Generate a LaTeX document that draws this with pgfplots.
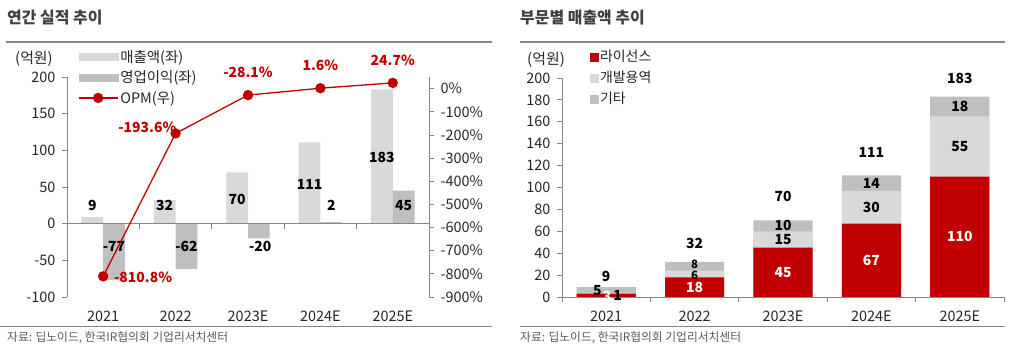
\documentclass[border=0pt]{standalone}
\usepackage{fontspec}
\setmainfont{Noto Sans CJK KR}
\usepackage{pgfplots}
\pgfplotsset{compat=1.18}
\definecolor{lbar}{HTML}{D9D9D9}
\definecolor{dbar}{HTML}{BFBFBF}
\definecolor{ored}{HTML}{C00000}
\definecolor{titlec}{HTML}{404040}
\definecolor{axc}{HTML}{868686}
\definecolor{txtc}{HTML}{262626}
\definecolor{srcc}{HTML}{595959}
\begin{document}
\begin{tikzpicture}[x=1bp,y=1bp]
\useasboundingbox (0,0) rectangle (1018,353);
% titles and rules
\node[anchor=west, font=\fontsize{16}{19}\selectfont\bfseries, text=titlec, inner sep=0] at (7,335) {연간 실적 추이};
\node[anchor=west, font=\fontsize{16}{19}\selectfont\bfseries, text=titlec, inner sep=0] at (520,335) {부문별 매출액 추이};
\draw[axc, line width=1.2bp] (6,311) -- (492,311);
\draw[axc, line width=1.2bp] (520,311) -- (1005,311);
\draw[axc, line width=1bp] (0,27) -- (492,27);
\draw[axc, line width=1bp] (520,27) -- (1005,27);
\node[anchor=west, font=\fontsize{11.8}{14}\selectfont, text=srcc, inner sep=0] at (7,15) {자료: 딥노이드, 한국IR협의회 기업리서치센터};
\node[anchor=west, font=\fontsize{11.8}{14}\selectfont, text=srcc, inner sep=0] at (520,15) {자료: 딥노이드, 한국IR협의회 기업리서치센터};
\node[font=\fontsize{15}{17}\selectfont, text=txtc] at (34,294) {(억원)};
\node[font=\fontsize{15}{17}\selectfont, text=txtc] at (546,293) {(억원)};

\pgfplotsset{
  every axis/.append style={
    scale only axis, anchor=south west, clip=false,
    tick label style={font=\fontsize{14.5}{17}\selectfont, text=txtc},
    /pgf/number format/assume math mode=true,
    axis line style={axc, line width=0.8bp},
    tick style={axc, line width=0.8bp},
    tick align=outside,
    major tick length=5bp,
  }
}

% ---------------- left chart: bars
\begin{axis}[
  at={(67bp,56bp)}, width=362bp, height=220bp,
  xmin=-0.5, xmax=4.5, ymin=-100, ymax=200,
  axis y line*=left, axis x line*=bottom,
  x axis line style={draw=none},
  xtick={0,...,4}, xticklabels={2021,2022,2023E,2024E,2025E},
  major x tick style={draw=none},
  xticklabel style={yshift=-5bp},
  ytick={-100,-50,...,200},
  yticklabel style={xshift=-3bp},
]
\addplot[ybar, bar width=0.3, bar shift=-0.15, fill=lbar, draw=none] coordinates {(0,9) (1,32) (2,70) (3,111) (4,183)};
\addplot[ybar, bar width=0.3, bar shift=0.15, fill=dbar, draw=none] coordinates {(0,-77) (1,-62) (2,-20) (3,2) (4,45)};
\draw[axc, line width=0.8bp] (axis cs:-0.5,0) -- (axis cs:4.5,0);
\pgfplotsinvokeforeach{0.5,1.5,2.5,3.5}{\draw[axc, line width=0.8bp] (axis cs:#1,0) -- ([yshift=-5bp]axis cs:#1,0);}
\begin{scope}[font=\fontsize{14}{16}\selectfont\bfseries, text=black]
\node at (axis cs:-0.15,24.5) {9};
\node at (axis cs:0.85,24.5) {32};
\node at (axis cs:1.85,33) {70};
\node at (axis cs:2.85,54) {111};
\node at (axis cs:3.85,90) {183};
\node at (axis cs:0.15,-31) {-77};
\node at (axis cs:1.15,-31) {-62};
\node at (axis cs:2.17,-31) {-20};
\node at (axis cs:3.15,24.5) {2};
\node at (axis cs:4.15,24.5) {45};
\end{scope}
\end{axis}

% ---------------- left chart: OPM
\begin{axis}[
  at={(67bp,56bp)}, width=362bp, height=220bp,
  xmin=-0.5, xmax=4.5, ymin=-900, ymax=50,
  axis y line*=right, axis x line=none,
  ytick={-900,-800,...,0},
  yticklabel={\pgfmathprintnumber{\tick}\%},
  yticklabel style={xshift=3bp},
  legend style={draw=none, fill=none, at={(axis description cs:0.03,1.131)}, anchor=north west,
    font=\fontsize{14.5}{17}\selectfont, text=txtc, row sep=3bp, inner sep=0pt,
    /tikz/every even column/.append style={column sep=4bp}},
  legend cell align=left,
]
\addlegendimage{legend image code/.code={\fill[lbar] (0bp,-3.5bp) rectangle (39bp,3.5bp);}}
\addlegendentry{매출액(좌)}
\addlegendimage{legend image code/.code={\fill[dbar] (0bp,-3.5bp) rectangle (39bp,3.5bp);}}
\addlegendentry{영업이익(좌)}
\addplot[ored, line width=1.3bp, mark=*, mark size=4.5bp, mark options={fill=ored, draw=ored},
  legend image code/.code={\draw[ored,line width=1.3bp] (0bp,0bp) -- (39bp,0bp); \fill[ored] (19.5bp,0bp) circle (4.5bp);}]
  coordinates {(0,-810.8) (1,-193.6) (2,-28.1) (3,1.6) (4,24.7)};
\addlegendentry{OPM(우)}
\begin{scope}[font=\fontsize{14}{16}\selectfont\bfseries, text=ored]
\node at (axis cs:0.55,-815) {-810.8\%};
\node at (axis cs:0.61,-166) {-193.6\%};
\node at (axis cs:2.0,72) {-28.1\%};
\node at (axis cs:3.0,102) {1.6\%};
\node at (axis cs:4.0,123) {24.7\%};
\end{scope}
\end{axis}

% ---------------- right chart (segments layered: total, red+light, red)
\begin{axis}[
  at={(562bp,56bp)}, width=442bp, height=219bp,
  xmin=-0.5, xmax=4.5, ymin=0, ymax=200,
  axis lines*=left,
  xtick={0,...,4}, xticklabels={2021,2022,2023E,2024E,2025E},
  major x tick style={draw=none},
  xticklabel style={yshift=-5bp},
  ytick={0,20,...,200},
  yticklabel style={xshift=-3bp},
  legend style={draw=none, fill=none, at={(axis description cs:0.062,1.137)}, anchor=north west,
    font=\fontsize{14}{16}\selectfont, text=txtc, row sep=4bp, inner sep=0pt,
    /tikz/every even column/.append style={column sep=3bp}},
  legend cell align=left,
]
\addlegendimage{legend image code/.code={\fill[ored] (0bp,-4bp) rectangle (8bp,4bp);}}
\addlegendentry{라이선스}
\addlegendimage{legend image code/.code={\fill[lbar] (0bp,-4bp) rectangle (8bp,4bp);}}
\addlegendentry{개발용역}
\addlegendimage{legend image code/.code={\fill[dbar] (0bp,-4bp) rectangle (8bp,4bp);}}
\addlegendentry{기타}
% total = 라이선스 + 개발용역 + 기타
\addplot[ybar, bar width=0.67, bar shift=0, fill=dbar, draw=none, forget plot] coordinates {(0,9) (1,32) (2,70) (3,111) (4,183)};
% 라이선스 + 개발용역
\addplot[ybar, bar width=0.67, bar shift=0, fill=lbar, draw=none, forget plot] coordinates {(0,4) (1,24) (2,60) (3,97) (4,165)};
% 라이선스
\addplot[ybar, bar width=0.67, bar shift=0, fill=ored, draw=none, forget plot] coordinates {(0,3) (1,18) (2,45) (3,67) (4,110)};
\pgfplotsinvokeforeach{-0.5,0.5,1.5,2.5,3.5,4.5}{\draw[axc, line width=0.8bp] (axis cs:#1,0) -- ([yshift=-5bp]axis cs:#1,0);}
\begin{scope}[font=\fontsize{14}{16}\selectfont\bfseries, text=black]
\node at (axis cs:0,19.2) {9};
\node at (axis cs:1,48.5) {32};
\node at (axis cs:2,91.5) {70};
\node at (axis cs:3,132) {111};
\node at (axis cs:4,199.5) {183};
\node at (axis cs:-0.1,5.5) {5};
\node[text=white] at (axis cs:0.01,0.5) {3};
\node at (axis cs:0.13,1) {1};
\node[font=\fontsize{11.5}{13}\selectfont\bfseries, inner sep=0pt] at (axis cs:1,19.6) {6};
\node[font=\fontsize{11.5}{13}\selectfont\bfseries, inner sep=0pt] at (axis cs:1,29.8) {8};
\node at (axis cs:2,52.5) {15};
\node at (axis cs:2,65) {10};
\node at (axis cs:3,82) {30};
\node at (axis cs:3,104) {14};
\node at (axis cs:4,137.5) {55};
\node at (axis cs:4,174) {18};
\end{scope}
\begin{scope}[font=\fontsize{14}{16}\selectfont\bfseries, text=white]
\node at (axis cs:1,9) {18};
\node at (axis cs:2,22.5) {45};
\node at (axis cs:3,33.5) {67};
\node at (axis cs:4,55) {110};
\end{scope}
\end{axis}
\end{tikzpicture}
\end{document}
